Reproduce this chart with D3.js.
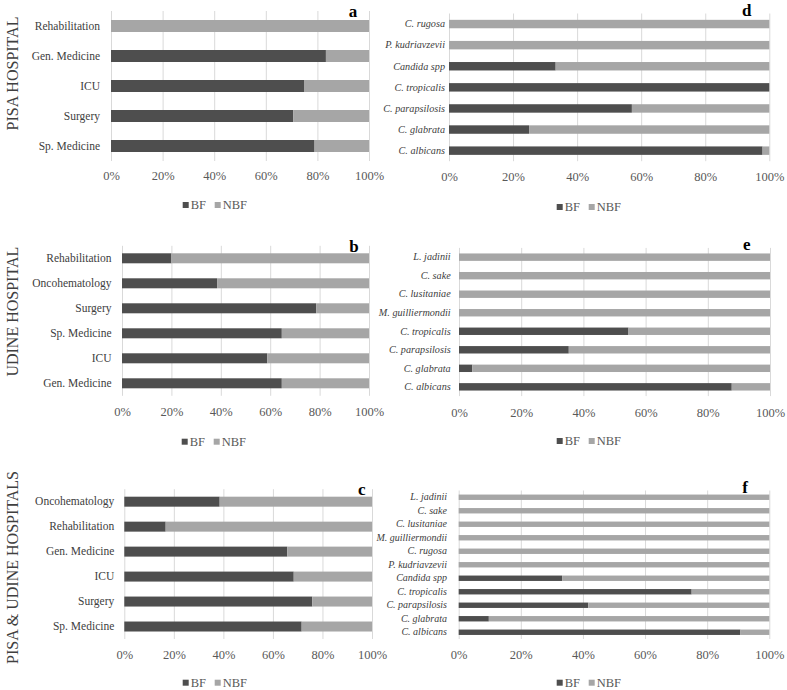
<!DOCTYPE html>
<html>
<head>
<meta charset="utf-8">
<script src="https://cdn.jsdelivr.net/npm/d3@7/dist/d3.min.js"></script>
<style>
html,body{margin:0;padding:0;background:#fff;}
svg{display:block;}
svg text{font-family:'Liberation Serif','Times New Roman',serif;}
</style>
</head>
<body>
<svg id="chart" width="787" height="690"></svg>
<script>
// ---------- DATA ----------
const seriesNames = ["BF", "NBF"];
const xTicks = [0, 20, 40, 60, 80, 100];
const rowTitles = ["PISA HOSPITAL", "UDINE HOSPITAL", "PISA & UDINE HOSPITALS"];

const catA = ["Rehabilitation", "Gen. Medicine", "ICU", "Surgery", "Sp. Medicine"];
const bfA  = [0, 83.3, 75.0, 70.6, 78.9];
const nbfA = [100, 16.7, 25.0, 29.4, 21.1];

const catB = ["Rehabilitation", "Oncohematology", "Surgery", "Sp. Medicine", "ICU", "Gen. Medicine"];
const bfB  = [20.0, 38.5, 78.6, 64.7, 58.8, 64.7];
const nbfB = [80.0, 61.5, 21.4, 35.3, 41.2, 35.3];

const catC = ["Oncohematology", "Rehabilitation", "Gen. Medicine", "ICU", "Surgery", "Sp. Medicine"];
const bfC  = [38.5, 16.7, 65.8, 68.4, 75.9, 71.6];
const nbfC = [61.5, 83.3, 34.2, 31.6, 24.1, 28.4];

const catD = ["C. rugosa", "P. kudriavzevii", "Candida spp", "C. tropicalis", "C. parapsilosis", "C. glabrata", "C. albicans"];
const bfD  = [0, 0, 33.3, 100, 57.1, 25.0, 97.9];
const nbfD = [100, 100, 66.7, 0, 42.9, 75.0, 2.1];

const catE = ["L. jadinii", "C. sake", "C. lusitaniae", "M. guilliermondii", "C. tropicalis", "C. parapsilosis", "C. glabrata", "C. albicans"];
const bfE  = [0, 0, 0, 0, 54.5, 35.3, 4.3, 87.7];
const nbfE = [100, 100, 100, 100, 45.5, 64.7, 95.7, 12.3];

const catF = ["L. jadinii", "C. sake", "C. lusitaniae", "M. guilliermondii", "C. rugosa", "P. kudriavzevii", "Candida spp", "C. tropicalis", "C. parapsilosis", "C. glabrata", "C. albicans"];
const bfF  = [0, 0, 0, 0, 0, 0, 33.3, 75.0, 41.7, 9.7, 90.7];
const nbfF = [100, 100, 100, 100, 100, 100, 66.7, 25.0, 58.3, 90.3, 9.3];

// ---------- LAYOUT ----------
const colors = {BF: "#4e4e4e", NBF: "#a6a6a6"};
const FONT = "'Liberation Serif', 'Times New Roman', serif";
const panels = [
  {letter:"a", cats:catA, bf:bfA, nbf:nbfA, italic:false, x:[111,369],   y:[11,161],     labelRight:100,  tickY:176,   legY:205,   legX:182.7, lx:353,   ly:17,    fs:11.5},
  {letter:"d", cats:catD, bf:bfD, nbf:nbfD, italic:true,  x:[449,769.3], y:[13.5,161.2], labelRight:445,  tickY:177,   legY:207,   legX:556.7, lx:746.7, ly:16,    fs:10.2},
  {letter:"b", cats:catB, bf:bfB, nbf:nbfB, italic:false, x:[122,369],   y:[245.8,395.8],labelRight:111.5,tickY:411.7, legY:441.7, legX:181.7, lx:354,   ly:251.5, fs:11.5},
  {letter:"e", cats:catE, bf:bfE, nbf:nbfE, italic:true,  x:[459,770],   y:[247.9,396.1],labelRight:450.7,tickY:412.7, legY:441,   legX:556.7, lx:746.7, ly:250,   fs:10.2},
  {letter:"c", cats:catC, bf:bfC, nbf:nbfC, italic:false, x:[124.3,372], y:[489.2,639],  labelRight:114.3,tickY:654.3, legY:682.7, legX:182.7, lx:361.7, ly:495,   fs:11.5},
  {letter:"f", cats:catF, bf:bfF, nbf:nbfF, italic:true,  x:[458.7,769.3],y:[490.5,639], labelRight:447,  tickY:654.3, legY:682.7, legX:556.7, lx:745,   ly:493,   fs:10}
];
const titlePos = [{x:12, y:73.5}, {x:12, y:311.7}, {x:12, y:567.5}];

const svg = d3.select("#chart");

panels.forEach(p => {
  const g = svg.append("g");
  const x = d3.scaleLinear().domain([0, 100]).range(p.x);
  const y = d3.scaleBand().domain(p.cats).range(p.y).paddingInner(0.6).paddingOuter(0.3);

  // gridlines + tick labels
  const xAxis = d3.axisBottom(x).tickValues(xTicks).tickFormat(d => d + "%")
    .tickSize(-(p.y[1] - p.y[0]));
  const ax = g.append("g").attr("transform", `translate(0,${p.y[1]})`).call(xAxis)
    .attr("font-family", FONT).attr("font-size", 12.5);
  ax.select(".domain").remove();
  ax.selectAll(".tick line").attr("stroke", "#d9d9d9").attr("stroke-width", 1);
  ax.selectAll(".tick text")
    .attr("y", p.tickY - p.y[1]).attr("dy", "0.35em")
    .attr("fill", "#595959").style("font-family", FONT).style("font-size", "12.5px");

  // stacked bars
  const rows = p.cats.map((c, i) => ({cat: c, BF: p.bf[i], NBF: p.nbf[i]}));
  const stack = d3.stack().keys(seriesNames)(rows);
  g.selectAll("g.series").data(stack).join("g").attr("class", "series")
    .attr("fill", d => colors[d.key])
    .selectAll("rect").data(d => d).join("rect")
    .attr("x", d => x(d[0]))
    .attr("width", d => Math.max(0, x(d[1]) - x(d[0])))
    .attr("y", d => y(d.data.cat))
    .attr("height", y.bandwidth());

  // category labels
  const yAxis = d3.axisLeft(y).tickSize(0).tickPadding(p.x[0] - p.labelRight);
  const ay = g.append("g").attr("transform", `translate(${p.x[0]},0)`).call(yAxis)
    .attr("font-family", FONT).attr("font-size", p.fs);
  ay.select(".domain").remove();
  ay.selectAll(".tick text")
    .attr("fill", "#404040").style("font-family", FONT)
    .style("font-size", p.fs + "px")
    .style("font-style", p.italic ? "italic" : "normal");

  // panel letter
  g.append("text").attr("x", p.lx).attr("y", p.ly).attr("text-anchor", "middle")
    .style("font-family", FONT).style("font-weight", "bold").style("font-size", "17px")
    .attr("fill", "#000").text(p.letter);

  // legend
  const lg = g.append("g").attr("transform", `translate(${p.legX},${p.legY})`);
  const offs = [0, 32];
  seriesNames.forEach((s, i) => {
    lg.append("rect").attr("x", offs[i]).attr("y", -3).attr("width", 6).attr("height", 6).attr("fill", colors[s]);
    lg.append("text").attr("x", offs[i] + 8).attr("y", 0).attr("dy", "0.35em")
      .style("font-family", FONT).style("font-size", "12.5px").attr("fill", "#595959").text(s);
  });
});

// row titles
rowTitles.forEach((t, i) => {
  svg.append("text")
    .attr("transform", `translate(${titlePos[i].x},${titlePos[i].y}) rotate(-90)`)
    .attr("text-anchor", "middle").attr("dy", "0.35em")
    .style("font-family", FONT).style("font-size", "16px").attr("fill", "#404040")
    .text(t);
});
</script>
</body>
</html>
